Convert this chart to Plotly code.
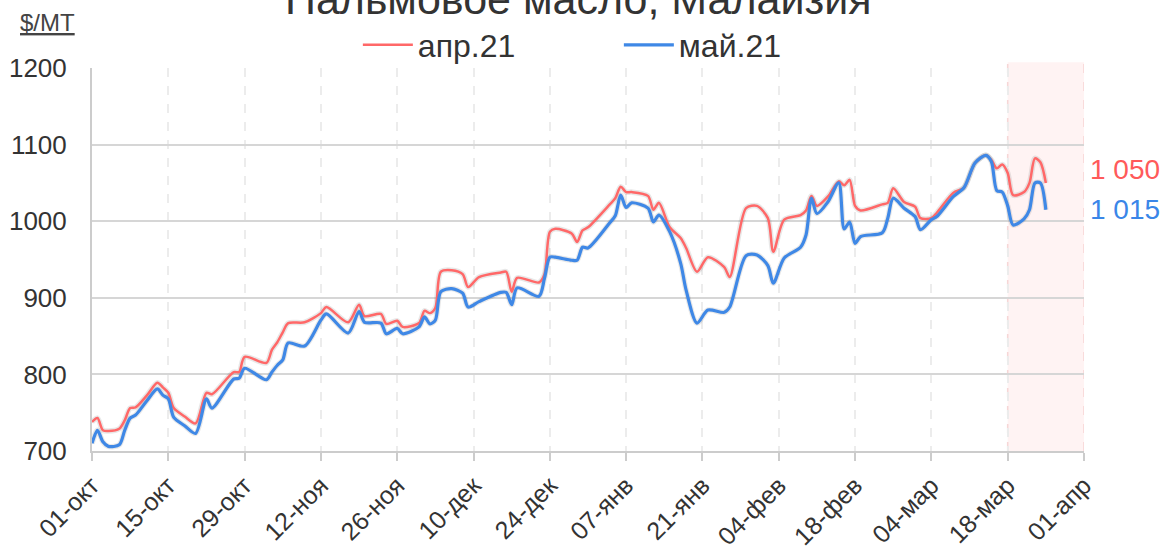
import plotly.graph_objects as go

# ---------------- data ----------------
dates = [
    "2020-10-01", "2020-10-02", "2020-10-03", "2020-10-04", "2020-10-06", "2020-10-07", "2020-10-08",
    "2020-10-09", "2020-10-11", "2020-10-13", "2020-10-14", "2020-10-15", "2020-10-16", "2020-10-18",
    "2020-10-20", "2020-10-22", "2020-10-23", "2020-10-27", "2020-10-28", "2020-10-29",
    "2020-11-02", "2020-11-03", "2020-11-04", "2020-11-05", "2020-11-06", "2020-11-09", "2020-11-12",
    "2020-11-13", "2020-11-17", "2020-11-19", "2020-11-20", "2020-11-23", "2020-11-24", "2020-11-26",
    "2020-11-27", "2020-11-30",
    "2020-12-01", "2020-12-02", "2020-12-03", "2020-12-04", "2020-12-06", "2020-12-08", "2020-12-09",
    "2020-12-11", "2020-12-15", "2020-12-16", "2020-12-17", "2020-12-18", "2020-12-22", "2020-12-23",
    "2020-12-24", "2020-12-25", "2020-12-28", "2020-12-29", "2020-12-30", "2020-12-31",
    "2021-01-04", "2021-01-05", "2021-01-06", "2021-01-07", "2021-01-08", "2021-01-11", "2021-01-12",
    "2021-01-13", "2021-01-15", "2021-01-17", "2021-01-18", "2021-01-20", "2021-01-22", "2021-01-25",
    "2021-01-26", "2021-01-29", "2021-01-31",
    "2021-02-02", "2021-02-03", "2021-02-05", "2021-02-08", "2021-02-09", "2021-02-10", "2021-02-11",
    "2021-02-13", "2021-02-15", "2021-02-16", "2021-02-17", "2021-02-18", "2021-02-19", "2021-02-23",
    "2021-02-24", "2021-02-25", "2021-02-27",
    "2021-03-01", "2021-03-02", "2021-03-04", "2021-03-05", "2021-03-08", "2021-03-10", "2021-03-12",
    "2021-03-14", "2021-03-15", "2021-03-16", "2021-03-17", "2021-03-18", "2021-03-19", "2021-03-21",
    "2021-03-22", "2021-03-23", "2021-03-24", "2021-03-25",
]

apr21 = [
    738, 743, 727, 726, 729, 740, 756, 757, 772, 789, 783, 776, 756, 745, 736, 776, 774, 803, 803, 823,
    815, 832, 842, 855, 867, 868, 880, 888, 868, 891, 876, 879, 866, 870, 862, 867,
    883, 880, 887, 934, 936, 931, 914, 927, 933, 934, 908, 926, 920, 930, 986, 990, 984, 973, 988, 992,
    1022, 1030, 1045, 1038, 1038, 1033, 1015, 1024, 992, 978, 965, 934, 953, 940, 927, 1017, 1020,
    1004, 960, 1002, 1008, 1014, 1033, 1020, 1032, 1052, 1047, 1054, 1020, 1014, 1022, 1024, 1043, 1025,
    1019, 1004, 1004, 1011, 1037, 1044, 1076, 1086, 1080, 1069, 1074, 1063, 1034, 1038, 1050, 1082, 1077, 1050,
]

may21 = [
    710, 727, 712, 706, 708, 727, 743, 747, 765, 781, 773, 768, 744, 733, 723, 768, 756, 794, 795, 808,
    793, 803, 812, 819, 841, 837, 871, 879, 854, 882, 868, 867, 853, 860, 853, 862,
    875, 866, 871, 908, 912, 906, 888, 895, 907, 907, 891, 913, 902, 925, 953, 953, 949, 949, 966, 965,
    998, 1007, 1034, 1018, 1024, 1017, 999, 1008, 986, 945, 910, 867, 884, 881, 888, 955, 956,
    942, 919, 952, 966, 982, 1030, 1010, 1025, 1050, 990, 999, 971, 980, 985, 1004, 1030, 1017,
    1006, 989, 1002, 1006, 1032, 1044, 1076, 1086, 1078, 1040, 1038, 1020, 995, 1003, 1015, 1050, 1050, 1015,
]

tick_vals = [
    "2020-10-01", "2020-10-15", "2020-10-29", "2020-11-12", "2020-11-26", "2020-12-10", "2020-12-24",
    "2021-01-07", "2021-01-21", "2021-02-04", "2021-02-18", "2021-03-04", "2021-03-18", "2021-04-01",
]
tick_text = [
    "01-окт", "15-окт", "29-окт", "12-ноя", "26-ноя", "10-дек", "24-дек",
    "07-янв", "21-янв", "04-фев", "18-фев", "04-мар", "18-мар", "01-апр",
]

title_text = "Пальмовое масло, Малайзия"
unit_text = "$/MT"
series_names = ["апр.21", "май.21"]
label_texts = ["1 050", "1 015"]
forecast_start = "2021-03-18"
forecast_end = "2021-04-01"
x_range = ["2020-10-01", "2021-04-01"]
y_range = [700, 1200]

RED = "#ff6868"
BLUE = "#3f88e6"
RED_LBL = "#ff5a5a"
BLUE_LBL = "#3a86e8"
FONT = "Liberation Sans, Arial, Helvetica, sans-serif"

fig = go.Figure()

# soft shadow-like glow under the lines
for vals in (apr21, may21):
    fig.add_trace(go.Scatter(
        x=dates, y=vals, mode="lines",
        line=dict(color="rgba(0,0,0,0.09)", width=5.5, shape="spline", smoothing=0.8),
        hoverinfo="skip", showlegend=False,
    ))

fig.add_trace(go.Scatter(
    x=dates, y=apr21, mode="lines", name=series_names[0],
    line=dict(color=RED, width=2.5, shape="spline", smoothing=0.8),
))
fig.add_trace(go.Scatter(
    x=dates, y=may21, mode="lines", name=series_names[1],
    line=dict(color=BLUE, width=3.2, shape="spline", smoothing=0.8),
))

# shaded forecast zone
fig.add_shape(type="rect", xref="x", yref="paper", x0=forecast_start, x1=forecast_end, y0=0, y1=1.015,
              fillcolor="rgba(255,200,200,0.22)", line=dict(width=0), layer="below")
for xv in (forecast_start, forecast_end):
    fig.add_shape(type="line", xref="x", yref="paper", x0=xv, x1=xv, y0=0, y1=1.015,
                  line=dict(color="rgba(240,190,190,0.6)", width=1.5, dash="dash"), layer="below")

# leader line from last red point to its label
label_red_y = 1069
fig.add_shape(type="path", xref="x", yref="y",
              path=f"M {dates[-1]} {apr21[-1]} L 2021-03-27 12:00 {label_red_y} L 2021-03-30 {label_red_y}",
              line=dict(color="#b0b0b0", width=1.5))

fig.add_annotation(text=label_texts[0], xref="paper", yref="y", x=1.004, y=label_red_y - 2,
                   xanchor="left", yanchor="middle", showarrow=False,
                   font=dict(size=28, color=RED_LBL, family=FONT))
fig.add_annotation(text=label_texts[1], xref="paper", yref="y", x=1.004, y=may21[-1],
                   xanchor="left", yanchor="middle", showarrow=False,
                   font=dict(size=28, color=BLUE_LBL, family=FONT))

fig.add_annotation(text=f"<u>{unit_text}</u>", xref="paper", yref="paper", x=-0.075, y=1.12,
                   xanchor="left", yanchor="middle", showarrow=False,
                   font=dict(size=24, color="#444", family=FONT))

# title (partly above the page top, as in the reference)
fig.add_annotation(text=title_text, xref="paper", yref="paper", x=0.49, y=1.18,
                   xanchor="center", yanchor="middle", showarrow=False,
                   font=dict(size=43, color="#333", family=FONT))

fig.update_layout(
    width=1162, height=547,
    margin=dict(l=92, r=78, t=68, b=96, autoexpand=False),
    plot_bgcolor="white", paper_bgcolor="white",
    font=dict(family=FONT, color="#333", size=24),
    legend=dict(orientation="h", x=0.268, xanchor="left", y=1.06, yanchor="middle",
                font=dict(size=32, color="#333", family=FONT), itemwidth=50,
                entrywidth=196, entrywidthmode="pixels", bgcolor="rgba(0,0,0,0)"),
    showlegend=True,
)

fig.update_xaxes(
    type="date", range=x_range, tickvals=tick_vals, ticktext=tick_text, tickangle=-45,
    ticks="outside", ticklen=8, tickwidth=2, tickcolor="#cccccc",
    showline=True, linecolor="#cccccc", linewidth=2, automargin=False,
    showgrid=True, gridcolor="#ececec", gridwidth=1.5, griddash="dash",
    tickfont=dict(size=25, color="#333", family=FONT), zeroline=False,
)
fig.update_yaxes(
    range=y_range, dtick=100, tick0=700, showgrid=True, gridcolor="#d6d6d6", gridwidth=1.5,
    showline=True, linecolor="#cccccc", linewidth=2, ticks="", ticklabelstandoff=18, automargin=False,
    tickfont=dict(size=26, color="#333", family=FONT), zeroline=False,
)

fig.write_html("out.html", config={"displayModeBar": False},
               post_script="document.body.style.margin='0';document.body.style.overflow='hidden';")
